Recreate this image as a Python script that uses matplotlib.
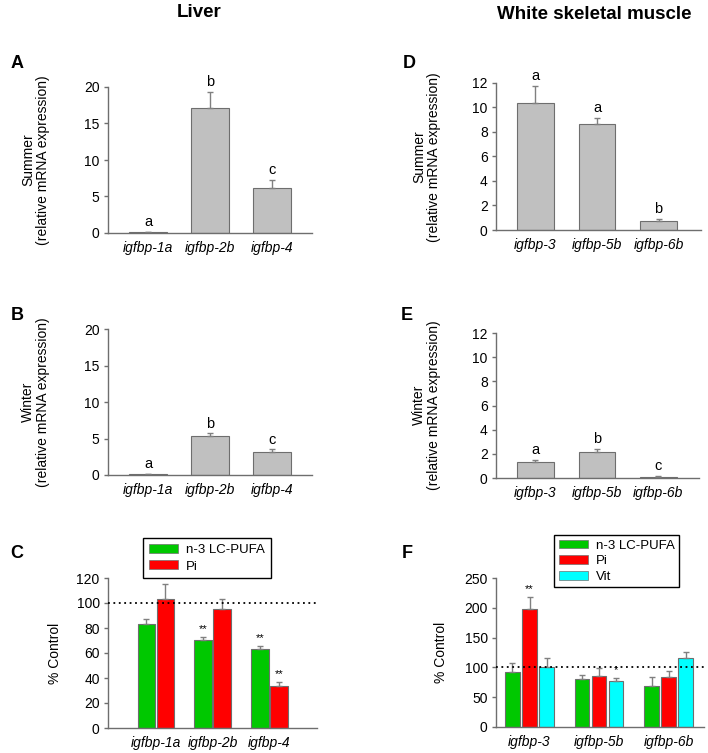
import numpy as np
import matplotlib
matplotlib.use("Agg")
import matplotlib.pyplot as plt
from matplotlib.patches import Patch

plt.rcParams['font.family'] = ['Liberation Sans', 'DejaVu Sans']

# Liver genes
liver_genes = ["igfbp-1a", "igfbp-2b", "igfbp-4"]
liver_summer = [0.1, 17.1, 6.2]
liver_summer_err = [0.05, 2.25, 1.05]
liver_summer_let = ["a", "b", "c"]
liver_winter = [0.1, 5.3, 3.1]
liver_winter_err = [0.05, 0.4, 0.4]
liver_winter_let = ["a", "b", "c"]
liver_pufa = [83.4, 70.6, 63.2]
liver_pufa_err = [3.8, 2.2, 2.4]
liver_pufa_sig = ["", "**", "**"]
liver_pi = [103.2, 95.2, 33.3]
liver_pi_err = [12.0, 8.2, 3.5]
liver_pi_sig = ["", "", "**"]

# White skeletal muscle genes
muscle_genes = ["igfbp-3", "igfbp-5b", "igfbp-6b"]
muscle_summer = [10.37, 8.67, 0.74]
muscle_summer_err = [1.4, 0.47, 0.16]
muscle_summer_let = ["a", "a", "b"]
muscle_winter = [1.32, 2.14, 0.1]
muscle_winter_err = [0.18, 0.26, 0.05]
muscle_winter_let = ["a", "b", "c"]
muscle_pufa = [93.0, 80.2, 68.6]
muscle_pufa_err = [14.0, 7.8, 16.0]
muscle_pufa_sig = ["", "", ""]
muscle_pi = [197.8, 86.3, 83.6]
muscle_pi_err = [20.6, 12.3, 10.0]
muscle_pi_sig = ["**", "", ""]
muscle_vit = [101.3, 78.0, 115.4]
muscle_vit_err = [15.1, 4.4, 11.0]
muscle_vit_sig = ["", "*", ""]

W, H = 708, 753
fig = plt.figure(figsize=(W / 100, H / 100), dpi=100)

GREY = "#c0c0c0"
EDGE = "#6e6e6e"
COLS = {"n-3 LC-PUFA": "#00c800", "Pi": "#ff0000", "Vit": "#00ffff"}


def make_ax(left, right, top, bottom):
    ax = fig.add_axes([left / W, 1 - bottom / H, (right - left) / W, (bottom - top) / H])
    for s in ["top", "right"]:
        ax.spines[s].set_visible(False)
    for s in ["left", "bottom"]:
        ax.spines[s].set_color(EDGE)
        ax.spines[s].set_linewidth(1.0)
    ax.tick_params(axis="y", direction="out", length=3, width=1, color=EDGE, labelsize=10, pad=3)
    ax.tick_params(axis="x", length=0, labelsize=10, pad=6)
    return ax


def bars(ax, x, vals, errs, color, width, labels=None, lsize=10):
    ax.bar(x, vals, width, color=color, edgecolor=EDGE, linewidth=0.8,
           yerr=[np.zeros(len(vals)), errs],
           error_kw=dict(ecolor="#808080", elinewidth=1, capsize=2.5, capthick=1), zorder=2)
    if labels is not None:
        for xi, v, e, t in zip(x, vals, errs, labels):
            if t:
                ax.annotate(t, (xi, v + e), xytext=(0, 2), textcoords="offset points",
                            ha="center", va="bottom", fontsize=lsize)


def single_panel(ax, genes, vals, errs, lets, ylim, yticks, xlim):
    x = np.arange(len(genes))
    bars(ax, x, vals, errs, GREY, 0.6, lets, 10.5)
    ax.set_xlim(*xlim)
    ax.set_ylim(*ylim)
    ax.set_yticks(yticks)
    ax.set_xticks(x)
    ax.set_xticklabels(genes, style="italic")


def add_legend(keys, x0, y0, spacing, bpad):
    handles = [Patch(facecolor=COLS[k], edgecolor="#707070", linewidth=0.5, label=k) for k in keys]
    fig.legend(handles=handles, loc="upper left", bbox_to_anchor=(x0 / W, 1 - y0 / H),
               fontsize=9.5, frameon=True, fancybox=False, edgecolor="black", framealpha=1,
               handlelength=2.2, handleheight=0.65, labelspacing=spacing, borderpad=bpad,
               handletextpad=0.6, borderaxespad=0)


# A
axA = make_ax(108, 312, 87, 233)
single_panel(axA, liver_genes, liver_summer, liver_summer_err, liver_summer_let,
             (0, 20), [0, 5, 10, 15, 20], (-0.645, 2.645))
# B
axB = make_ax(108, 312, 329, 475)
single_panel(axB, liver_genes, liver_winter, liver_winter_err, liver_winter_let,
             (0, 20), [0, 5, 10, 15, 20], (-0.645, 2.645))
# D
axD = make_ax(496, 701, 83, 230)
single_panel(axD, muscle_genes, muscle_summer, muscle_summer_err, muscle_summer_let,
             (0, 12), [0, 2, 4, 6, 8, 10, 12], (-0.642, 2.69))
# E
axE = make_ax(496, 699, 333, 478)
single_panel(axE, muscle_genes, muscle_winter, muscle_winter_err, muscle_winter_let,
             (0, 12), [0, 2, 4, 6, 8, 10, 12], (-0.642, 2.66))

# C
axC = make_ax(108, 317, 578, 728)
x = np.arange(len(liver_genes))
bars(axC, x - 0.167, liver_pufa, liver_pufa_err, COLS["n-3 LC-PUFA"], 0.31, liver_pufa_sig, 8)
bars(axC, x + 0.167, liver_pi, liver_pi_err, COLS["Pi"], 0.31, liver_pi_sig, 8)
axC.axhline(100, color="black", linestyle=(0, (1, 2)), linewidth=1.3, zorder=3)
axC.set_xlim(-0.845, 2.837)
axC.set_ylim(0, 120)
axC.set_yticks(np.arange(0, 121, 20))
axC.set_xticks(x)
axC.set_xticklabels(liver_genes, style="italic")
add_legend(["n-3 LC-PUFA", "Pi"], 143.3, 538.3, 0.32, 0.45)

# F
axF = make_ax(496, 704, 578, 727)
x = np.arange(len(muscle_genes))
bars(axF, x - 0.245, muscle_pufa, muscle_pufa_err, COLS["n-3 LC-PUFA"], 0.21, muscle_pufa_sig, 8)
bars(axF, x, muscle_pi, muscle_pi_err, COLS["Pi"], 0.21, muscle_pi_sig, 8)
bars(axF, x + 0.245, muscle_vit, muscle_vit_err, COLS["Vit"], 0.21, muscle_vit_sig, 8)
axF.axhline(100, color="black", linestyle=(0, (1, 2)), linewidth=1.3, zorder=3)
axF.set_xlim(-0.482, 2.51)
axF.set_ylim(0, 250)
axF.set_yticks(np.arange(0, 251, 50))
axF.set_xticks(x)
axF.set_xticklabels(muscle_genes, style="italic")
add_legend(["n-3 LC-PUFA", "Pi", "Vit"], 554.3, 535, 0.27, 0.35)


# y labels
def ylab(text, xc, yc):
    fig.text(xc / W, 1 - yc / H, text, rotation=90, ha="center", va="center",
             multialignment="center", fontsize=10, linespacing=1.05)


ylab("Summer\n(relative mRNA expression)", 35.5, 160)
ylab("Winter\n(relative mRNA expression)", 35.5, 402)
ylab("% Control", 55, 653)
ylab("Summer\n(relative mRNA expression)", 426.5, 157)
ylab("Winter\n(relative mRNA expression)", 426.5, 405)
ylab("% Control", 441, 652)

# titles and panel letters
fig.text(199 / W, 1 - 12.5 / H, "Liver", ha="center", va="center", fontsize=13.5, fontweight="bold")
fig.text(594.5 / W, 1 - 14.5 / H, "White skeletal muscle", ha="center", va="center",
         fontsize=13.5, fontweight="bold")
for lab, xp, yp in [("A", 17, 64), ("B", 17, 315), ("C", 17, 554),
                    ("D", 409, 64), ("E", 407, 315), ("F", 407, 554)]:
    fig.text(xp / W, 1 - yp / H, lab, ha="center", va="center", fontsize=13, fontweight="bold")

fig.savefig("out.png", dpi=100)
